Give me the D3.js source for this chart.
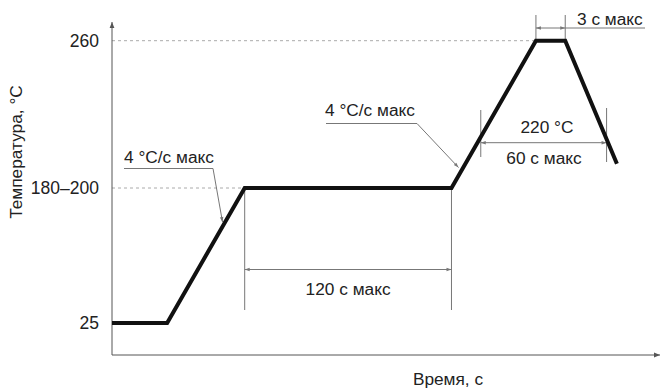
<!DOCTYPE html>
<html>
<head>
<meta charset="utf-8">
<script src="https://cdn.jsdelivr.net/npm/d3@7"></script>
<style>
  body { margin: 0; background: #fff; }
  svg text { font-family: "Liberation Sans", Arial, sans-serif; fill: #222; }
</style>
</head>
<body>
<div id="svganchor"></div>
<script>
let width = 661, height = 388;

// reflow profile (schematic seconds / °C)
let times = [0, 32, 77, 197, 246, 263, 293];
let temps = [25, 25, 190, 190, 260, 260, 206];

let tickValues = [25, 190, 260];
let tickLabels = ["25", "180–200", "260"];

// dimension marks
let soakSpan = [77, 197];      // 120 s
let peakSpan = [246, 263];     // 3 s
let liquidusSpan = [214, 287]; // 60 s above 220 °C
let liquidusTemp = 220;

let margin = ({top: 22, right: 1, bottom: 33, left: 112});

let fontSize = "17.3px";

let xScale = d3.scaleLinear()
    .domain([0, 318])
    .range([margin.left, width - margin.right]);

let yScale = d3.scaleLinear()
    .domain([25, 190, 220, 260])
    .range([323, 188, 142.7, 40.7]);

let svg = d3.select("#svganchor")
    .append("svg")
    .attr("width", width)
    .attr("height", height);

let defs = svg.append("defs");
defs.append("marker")
    .attr("id", "arr")
    .attr("viewBox", "0 0 10 10")
    .attr("refX", 10).attr("refY", 5)
    .attr("markerWidth", 7).attr("markerHeight", 5)
    .attr("markerUnits", "userSpaceOnUse")
    .attr("orient", "auto-start-reverse")
    .append("path")
    .attr("d", "M0,1.5 L10,5 L0,8.5 Z")
    .attr("fill", "#777");

defs.append("marker")
    .attr("id", "axarr")
    .attr("viewBox", "0 0 10 10")
    .attr("refX", 10).attr("refY", 5)
    .attr("markerWidth", 8).attr("markerHeight", 6)
    .attr("markerUnits", "userSpaceOnUse")
    .attr("orient", "auto")
    .append("path")
    .attr("d", "M0,1 L10,5 L0,9 Z")
    .attr("fill", "#555");

let baseY = height - margin.bottom;

// dashed reference lines
svg.append("line")
    .attr("x1", margin.left).attr("x2", xScale(peakSpan[0]))
    .attr("y1", yScale(260)).attr("y2", yScale(260))
    .attr("stroke", "#aaa").attr("stroke-dasharray", "3,3");

svg.append("line")
    .attr("x1", margin.left).attr("x2", xScale(soakSpan[0]))
    .attr("y1", yScale(190)).attr("y2", yScale(190))
    .attr("stroke", "#aaa").attr("stroke-dasharray", "3,3");

// axes
svg.append("line")
    .attr("x1", margin.left).attr("x2", margin.left)
    .attr("y1", baseY).attr("y2", margin.top)
    .attr("stroke", "#555").attr("stroke-width", 1)
    .attr("marker-end", "url(#axarr)");

svg.append("line")
    .attr("x1", margin.left).attr("x2", width - 1)
    .attr("y1", baseY).attr("y2", baseY)
    .attr("stroke", "#555").attr("stroke-width", 1)
    .attr("marker-end", "url(#axarr)");

let yAxis = d3.axisLeft(yScale)
    .tickValues(tickValues)
    .tickFormat(function(d, i) { return tickLabels[i]; })
    .tickSize(0)
    .tickPadding(13);

let gY = svg.append("g")
    .attr("transform", "translate(" + margin.left + ",0)")
    .call(yAxis);
gY.select(".domain").remove();
gY.selectAll("text")
    .style("font-size", "17.5px")
    .style("font-family", "'Liberation Sans', Arial, sans-serif")
    .attr("fill", "#222");

svg.append("text")
    .attr("text-anchor", "middle")
    .attr("transform", "translate(22,152) rotate(-90)")
    .style("font-size", fontSize)
    .text("Температура, °С");

svg.append("text")
    .attr("text-anchor", "middle")
    .attr("x", 448).attr("y", 385)
    .style("font-size", fontSize)
    .text("Время, с");

// dimension helper
function dim(g, x1, x2, y) {
    g.append("line")
        .attr("x1", x1).attr("x2", x2)
        .attr("y1", y).attr("y2", y)
        .attr("stroke", "#777").attr("stroke-width", 1)
        .attr("marker-start", "url(#arr)")
        .attr("marker-end", "url(#arr)");
}
function vline(g, x, y1, y2) {
    g.append("line")
        .attr("x1", x).attr("x2", x)
        .attr("y1", y1).attr("y2", y2)
        .attr("stroke", "#777").attr("stroke-width", 1);
}

let ann = svg.append("g");

// 120 s
vline(ann, xScale(soakSpan[0]), yScale(190), 310);
vline(ann, xScale(soakSpan[1]), yScale(190), 310);
dim(ann, xScale(soakSpan[0]), xScale(soakSpan[1]), 269.5);
ann.append("text")
    .attr("text-anchor", "middle")
    .attr("x", (xScale(soakSpan[0]) + xScale(soakSpan[1])) / 2)
    .attr("y", 295)
    .style("font-size", fontSize)
    .text("120 с макс");

// 3 s
vline(ann, xScale(peakSpan[0]), 15, yScale(260));
vline(ann, xScale(peakSpan[1]), 15, yScale(260));
dim(ann, xScale(peakSpan[0]), xScale(peakSpan[1]), 28);
ann.append("line")
    .attr("x1", xScale(peakSpan[1])).attr("x2", 645)
    .attr("y1", 28).attr("y2", 28)
    .attr("stroke", "#777");
ann.append("text")
    .attr("text-anchor", "start")
    .attr("x", 577).attr("y", 25)
    .style("font-size", fontSize)
    .text("3 с макс");

// 60 s above 220 °C
vline(ann, xScale(liquidusSpan[0]), 110, 157);
vline(ann, xScale(liquidusSpan[1]), 108, 162);
dim(ann, xScale(liquidusSpan[0]), xScale(liquidusSpan[1]), yScale(liquidusTemp));
ann.append("text")
    .attr("text-anchor", "middle")
    .attr("x", 547).attr("y", 133)
    .style("font-size", fontSize)
    .text("220 °C");
ann.append("text")
    .attr("text-anchor", "middle")
    .attr("x", 544).attr("y", 164)
    .style("font-size", fontSize)
    .text("60 с макс");

// ramp rate leaders
ann.append("path")
    .attr("d", "M124,168.5 L213,168.5 L222.5,222")
    .attr("fill", "none").attr("stroke", "#777")
    .attr("marker-end", "url(#arr)");
ann.append("text")
    .attr("x", 124).attr("y", 163)
    .style("font-size", fontSize)
    .text("4 °C/с макс");

ann.append("path")
    .attr("d", "M326,123.5 L417,123.5 L458.5,167.5")
    .attr("fill", "none").attr("stroke", "#777")
    .attr("marker-end", "url(#arr)");
ann.append("text")
    .attr("x", 325).attr("y", 116)
    .style("font-size", fontSize)
    .text("4 °C/с макс");

// profile
let line = d3.line()
    .x(function(d, i) { return xScale(times[i]); })
    .y(function(d) { return yScale(d); });

svg.append("path")
    .datum(temps)
    .attr("d", line)
    .attr("fill", "none")
    .attr("stroke", "#111")
    .attr("stroke-width", 4)
    .attr("stroke-linejoin", "miter");
</script>
</body>
</html>
